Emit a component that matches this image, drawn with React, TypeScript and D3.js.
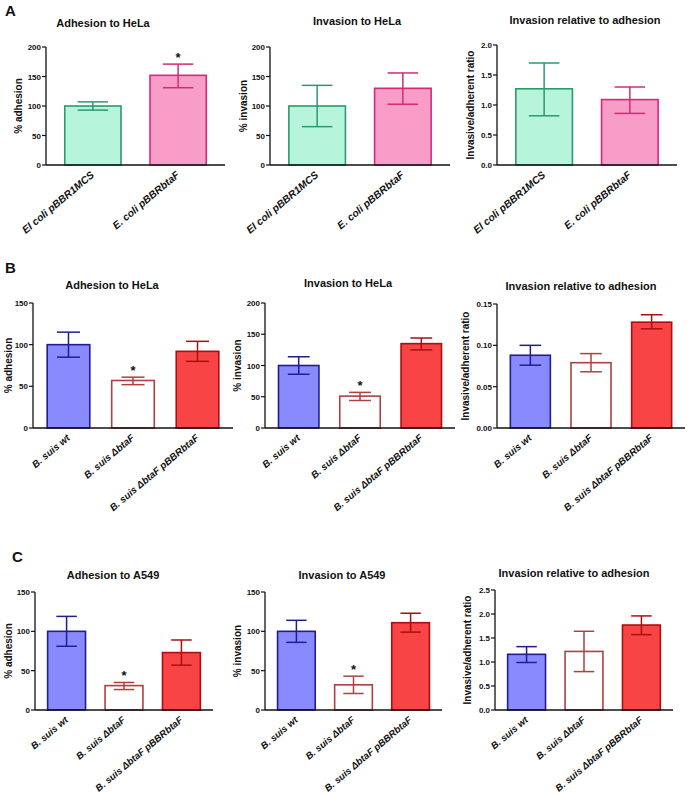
import React from "react";
import * as d3 from "d3";

// ---------- data ----------
const categoriesA = ["El coli pBBR1MCS", "E. coli pBBRbtaF"];
const categoriesBC = ["B. suis wt", "B. suis \u0394btaF", "B. suis \u0394btaF pBBRbtaF"];

const aAdhMean = [100, 152];
const aAdhLow = [93, 131];
const aAdhHigh = [107, 171];
const aInvMean = [100, 130];
const aInvLow = [65, 103];
const aInvHigh = [135, 156];
const aRatMean = [1.27, 1.09];
const aRatLow = [0.82, 0.86];
const aRatHigh = [1.7, 1.3];

const bAdhMean = [100, 57, 92];
const bAdhLow = [85, 52, 80];
const bAdhHigh = [115, 61, 104];
const bInvMean = [100, 51, 135];
const bInvLow = [86, 44, 125];
const bInvHigh = [114, 57, 144];
const bRatMean = [0.088, 0.079, 0.128];
const bRatLow = [0.076, 0.068, 0.12];
const bRatHigh = [0.1, 0.09, 0.137];

const cAdhMean = [100, 31, 73];
const cAdhLow = [81, 26, 57];
const cAdhHigh = [119, 35, 89];
const cInvMean = [100, 32, 111];
const cInvLow = [86, 21, 99];
const cInvHigh = [114, 43, 123];
const cRatMean = [1.16, 1.22, 1.77];
const cRatLow = [0.99, 0.8, 1.57];
const cRatHigh = [1.32, 1.64, 1.96];

const ticks200 = [0, 50, 100, 150, 200];
const ticks150 = [0, 50, 100, 150];
const ticks2 = [0, 0.5, 1.0, 1.5, 2.0];
const ticks015 = [0, 0.05, 0.1, 0.15];
const ticks25 = [0, 0.5, 1.0, 1.5, 2.0, 2.5];

// ---------- styles ----------
const styleA = [
  { fill: "#b6f5dc", stroke: "#2a9a72" },
  { fill: "#f89cc8", stroke: "#d42a78" },
];
const styleBC = [
  { fill: "#8a8aff", stroke: "#1e1e8c" },
  { fill: "#ffffff", stroke: "#b04040" },
  { fill: "#f84444", stroke: "#aa1010" },
];

const FONT = "'Liberation Sans', Arial, Helvetica, sans-serif";

type ChartDef = {
  title: string; titleX: number; titleY: number;
  ylabel: string; ylabelX: number;
  x0: number; x1: number; yTop: number; yBot: number;
  max: number; ticks: number[]; fmt: string;
  cats: string[]; mean: number[]; low: number[]; high: number[];
  stars: number[]; styles: { fill: string; stroke: string }[];
  labelSize: number;
};

const charts: ChartDef[] = [
  { title: "Adhesion to HeLa", titleX: 103, titleY: 27, ylabel: "% adhesion", ylabelX: 18,
    x0: 46, x1: 225, yTop: 47, yBot: 165, max: 200, ticks: ticks200, fmt: "d",
    cats: categoriesA, mean: aAdhMean, low: aAdhLow, high: aAdhHigh, stars: [1], styles: styleA, labelSize: 10.3 },
  { title: "Invasion to HeLa", titleX: 357, titleY: 25, ylabel: "% invasion", ylabelX: 243,
    x0: 270, x1: 450, yTop: 47, yBot: 165, max: 200, ticks: ticks200, fmt: "d",
    cats: categoriesA, mean: aInvMean, low: aInvLow, high: aInvHigh, stars: [], styles: styleA, labelSize: 10.3 },
  { title: "Invasion relative to adhesion", titleX: 585, titleY: 24, ylabel: "Invasive/adherent ratio", ylabelX: 470,
    x0: 497, x1: 677, yTop: 45, yBot: 165, max: 2, ticks: ticks2, fmt: ".1f",
    cats: categoriesA, mean: aRatMean, low: aRatLow, high: aRatHigh, stars: [], styles: styleA, labelSize: 10.3 },

  { title: "Adhesion to HeLa", titleX: 112, titleY: 289, ylabel: "% adhesion", ylabelX: 8,
    x0: 33, x1: 233, yTop: 303, yBot: 428, max: 150, ticks: ticks150, fmt: "d",
    cats: categoriesBC, mean: bAdhMean, low: bAdhLow, high: bAdhHigh, stars: [1], styles: styleBC, labelSize: 9.8 },
  { title: "Invasion to HeLa", titleX: 348, titleY: 287, ylabel: "% invasion", ylabelX: 237,
    x0: 265, x1: 455, yTop: 303, yBot: 428, max: 200, ticks: ticks200, fmt: "d",
    cats: categoriesBC, mean: bInvMean, low: bInvLow, high: bInvHigh, stars: [1], styles: styleBC, labelSize: 9.8 },
  { title: "Invasion relative to adhesion", titleX: 581, titleY: 290, ylabel: "Invasive/adherent ratio", ylabelX: 465,
    x0: 497, x1: 685, yTop: 304, yBot: 428, max: 0.15, ticks: ticks015, fmt: ".2f",
    cats: categoriesBC, mean: bRatMean, low: bRatLow, high: bRatHigh, stars: [], styles: styleBC, labelSize: 9.8 },

  { title: "Adhesion to A549", titleX: 113, titleY: 579, ylabel: "% adhesion", ylabelX: 8,
    x0: 35, x1: 213, yTop: 592, yBot: 710, max: 150, ticks: ticks150, fmt: "d",
    cats: categoriesBC, mean: cAdhMean, low: cAdhLow, high: cAdhHigh, stars: [1], styles: styleBC, labelSize: 9.6 },
  { title: "Invasion to A549", titleX: 342, titleY: 579, ylabel: "% invasion", ylabelX: 237,
    x0: 265, x1: 442, yTop: 592, yBot: 710, max: 150, ticks: ticks150, fmt: "d",
    cats: categoriesBC, mean: cInvMean, low: cInvLow, high: cInvHigh, stars: [1], styles: styleBC, labelSize: 9.6 },
  { title: "Invasion relative to adhesion", titleX: 574, titleY: 577, ylabel: "Invasive/adherent ratio", ylabelX: 467,
    x0: 495, x1: 673, yTop: 590, yBot: 710, max: 2.5, ticks: ticks25, fmt: ".1f",
    cats: categoriesBC, mean: cRatMean, low: cRatLow, high: cRatHigh, stars: [], styles: styleBC, labelSize: 9.6 },
];

const panelLetters = [
  { t: "A", x: 5, y: 16 },
  { t: "B", x: 5, y: 273 },
  { t: "C", x: 12, y: 562 },
];

function BarChart({ c }: { c: ChartDef }) {
  const x = d3.scaleBand<string>().domain(c.cats).range([c.x0, c.x1]).paddingInner(0.34).paddingOuter(0.22);
  const y = d3.scaleLinear().domain([0, c.max]).range([c.yBot, c.yTop]);
  const f = d3.format(c.fmt);
  const bw = x.bandwidth();
  const cap = bw * 0.27;
  return (
    <g>
      <text x={c.titleX} y={c.titleY} textAnchor="middle" fontFamily={FONT} fontWeight="bold" fontSize={11} fill="#111">
        {c.title}
      </text>
      <text
        transform={`translate(${c.ylabelX + 4},${(c.yTop + c.yBot) / 2}) rotate(-90)`}
        textAnchor="middle" fontFamily={FONT} fontWeight="bold" fontSize={10} fill="#111"
      >
        {c.ylabel}
      </text>
      {c.cats.map((cat, i) => {
        const xb = x(cat) as number;
        const cx = xb + bw / 2;
        const st = c.styles[i];
        return (
          <g key={cat}>
            <rect x={xb} y={y(c.mean[i])} width={bw} height={c.yBot - y(c.mean[i])}
              fill={st.fill} stroke={st.stroke} strokeWidth={1.6} />
            <line x1={cx} x2={cx} y1={y(c.low[i])} y2={y(c.high[i])} stroke={st.stroke} strokeWidth={1.5} />
            <line x1={cx - cap} x2={cx + cap} y1={y(c.low[i])} y2={y(c.low[i])} stroke={st.stroke} strokeWidth={1.5} />
            <line x1={cx - cap} x2={cx + cap} y1={y(c.high[i])} y2={y(c.high[i])} stroke={st.stroke} strokeWidth={1.5} />
            {c.stars.includes(i) && (
              <text x={cx} y={y(c.high[i]) - 2} textAnchor="middle" fontFamily={FONT} fontWeight="bold" fontSize={13} fill="#111">*</text>
            )}
            <text
              transform={`translate(${cx + 2},${c.yBot + 11}) rotate(-40)`}
              textAnchor="end" fontFamily={FONT} fontWeight="bold" fontStyle="italic" fontSize={c.labelSize} fill="#111"
            >
              {cat}
            </text>
          </g>
        );
      })}
      <line x1={c.x0} x2={c.x0} y1={c.yTop} y2={c.yBot} stroke="#111" strokeWidth={1.3} />
      <line x1={c.x0} x2={c.x1} y1={c.yBot} y2={c.yBot} stroke="#111" strokeWidth={1.3} />
      {c.ticks.map((t) => (
        <g key={t}>
          <line x1={c.x0 - 4} x2={c.x0} y1={y(t)} y2={y(t)} stroke="#111" strokeWidth={1.2} />
          <text x={c.x0 - 5} y={y(t) + 3} textAnchor="end" fontFamily={FONT} fontWeight="bold" fontSize={8} fill="#111">
            {f(t)}
          </text>
        </g>
      ))}
    </g>
  );
}

export default function App() {
  return (
    <svg width={689} height={795} style={{ position: "absolute", left: 0, top: 0, background: "#fff" }}>
      <rect width={689} height={795} fill="#fff" />
      {panelLetters.map((p) => (
        <text key={p.t} x={p.x} y={p.y} fontFamily={FONT} fontWeight="bold" fontSize={15} fill="#111">{p.t}</text>
      ))}
      {charts.map((c, i) => (
        <BarChart key={i} c={c} />
      ))}
    </svg>
  );
}
